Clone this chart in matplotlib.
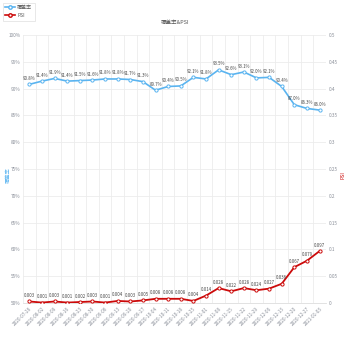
import matplotlib
matplotlib.use("Agg")
import matplotlib.pyplot as plt
from matplotlib.ticker import FixedLocator, FuncFormatter
from matplotlib.lines import Line2D

plt.rcParams['font.family'] = ['Noto Sans CJK SC', 'DejaVu Sans']

dates = ["2020-07-26", "2020-08-02", "2020-08-09", "2020-08-16", "2020-08-23", "2020-08-30",
         "2020-09-06", "2020-09-13", "2020-09-20", "2020-09-27", "2020-10-04", "2020-10-11",
         "2020-10-18", "2020-10-25", "2020-11-01", "2020-11-08", "2020-11-15", "2020-11-22",
         "2020-11-29", "2020-12-06", "2020-12-13", "2020-12-20", "2020-12-27", "2021-01-03"]
coverage = [90.8, 91.4, 91.9, 91.4, 91.5, 91.6, 91.8, 91.8, 91.7, 91.3, 89.7, 90.4,
            90.5, 92.1, 91.8, 93.5, 92.6, 93.1, 92.0, 92.1, 90.4, 87.0, 86.3, 86.0]
psi = [0.003, 0.001, 0.003, 0.001, 0.002, 0.003, 0.001, 0.004, 0.003, 0.005, 0.008, 0.008,
       0.008, 0.004, 0.014, 0.028, 0.022, 0.028, 0.024, 0.027, 0.036, 0.067, 0.079, 0.097]
left_ticks = [50, 55, 60, 65, 70, 75, 80, 85, 90, 95, 100]
right_ticks = [0, 0.05, 0.1, 0.15, 0.2, 0.25, 0.3, 0.35, 0.4, 0.45, 0.5]

BLUE = '#5ab4f0'
RED = '#cc0a0a'
GRID = '#ececec'
TXT = '#8a8f99'
LBL = '#444444'

fig = plt.figure(figsize=(3.5, 3.5), dpi=100)
ax = fig.add_axes([0.066, 0.134, 0.865, 0.766])
ax2 = ax.twinx()

x = list(range(len(dates)))
n = len(dates)

ax.set_xlim(-0.5, n - 0.5)
ax.set_ylim(50, 100)
ax2.set_ylim(0, 0.5)

ax.plot(x, coverage, color=BLUE, lw=1.2, marker='o', ms=2.3, mfc='white', mec=BLUE, mew=0.7, zorder=3)
ax2.plot(x, psi, color=RED, lw=1.3, marker='o', ms=2.3, mfc='white', mec=RED, mew=0.7, zorder=3)

for xi, v in zip(x, coverage):
    ax.annotate(f"{v:.1f}%", (xi, v), xytext=(0, 2.5), textcoords='offset points',
                ha='center', va='bottom', fontsize=3.1, color=LBL)
for xi, v in zip(x, psi):
    ax2.annotate(f"{v:.3f}", (xi, v), xytext=(0, 2.5), textcoords='offset points',
                 ha='center', va='bottom', fontsize=3.1, color=LBL)

ax.set_yticks(left_ticks)
ax.yaxis.set_major_formatter(FuncFormatter(lambda v, p: f"{int(v)}%"))
ax2.set_yticks(right_ticks)
ax2.yaxis.set_major_formatter(FuncFormatter(lambda v, p: f"{v:g}"))

ax.set_xticks(x)
ax.set_xticklabels(dates, rotation=45, ha='right', rotation_mode='anchor', fontsize=3.4, color=TXT)
ax.xaxis.set_minor_locator(FixedLocator([i - 0.5 for i in range(n + 1)]))
ax.grid(True, which='minor', axis='x', color=GRID, lw=0.6)
ax.grid(True, which='major', axis='y', color=GRID, lw=0.6)
ax.set_axisbelow(True)

for a in (ax, ax2):
    for s in a.spines.values():
        s.set_visible(False)
    a.tick_params(axis='both', which='both', length=0, labelsize=3.4, labelcolor=TXT, pad=2)
ax.spines['bottom'].set_visible(True)
ax.spines['bottom'].set_color('#dddddd')
ax.spines['bottom'].set_linewidth(0.6)

fig.text(8 / 350, 0.5, "覆盖率", rotation=90, color=BLUE, fontsize=3.8, ha='center', va='center')
fig.text(343 / 350, 0.5, "PSI", rotation=90, color=RED, fontsize=3.8, ha='center', va='center')

fig.text(0.5, 0.936, "覆盖率&PSI", ha='center', va='center', fontsize=4.0, color='#555555')

handles = [Line2D([], [], color=BLUE, lw=1.2, marker='o', ms=2.5, mfc='white', mec=BLUE),
           Line2D([], [], color=RED, lw=1.2, marker='o', ms=2.5, mfc='white', mec=RED)]
leg = fig.legend(handles, ["覆盖率", "PSI"], loc='upper left', bbox_to_anchor=(0.0, 1.0),
                 fontsize=3.6, frameon=True, handlelength=2.0, borderpad=0.5,
                 labelspacing=0.6, handletextpad=0.4, fancybox=False)
leg.get_frame().set_edgecolor('#dddddd')
leg.get_frame().set_linewidth(0.6)
for t in leg.get_texts():
    t.set_color('#555555')

fig.savefig("out.png", dpi=100, facecolor='white')
